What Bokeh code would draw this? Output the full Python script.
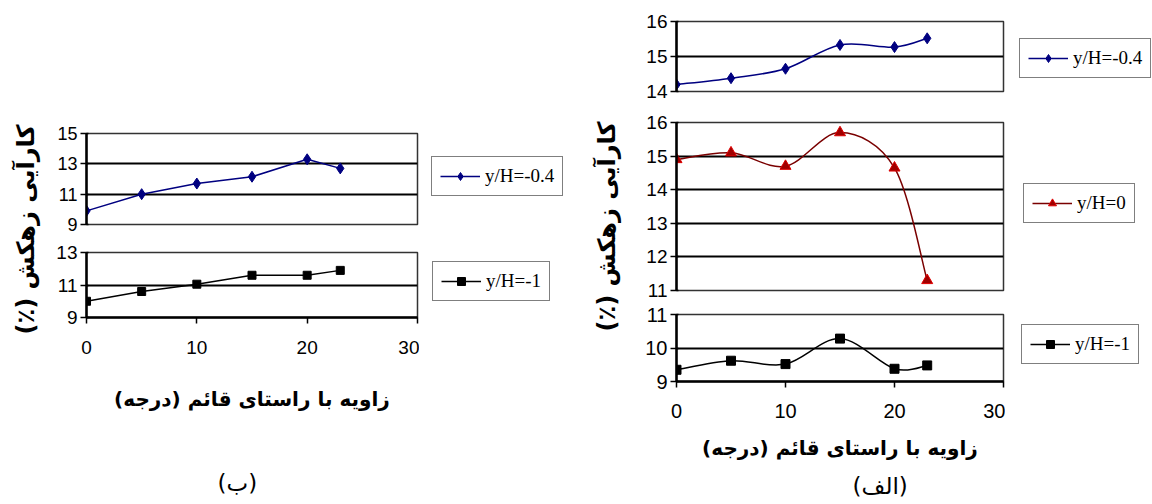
import numpy as np
from bokeh.plotting import figure
from bokeh.layouts import row, column
from bokeh.models import (Range1d, FixedTicker, Legend, LegendItem, Label,
                          ColumnDataSource, LinearAxis)
from bokeh.embed import file_html
from bokeh.resources import INLINE
from math import pi

# ---------------- data ----------------
angles = [0, 5, 10, 15, 20, 23]
# chart (ب)
b_y04 = [9.9, 11.0, 11.7, 12.15, 13.3, 12.7]
b_y1 = [10.0, 10.6, 11.05, 11.6, 11.6, 11.9]
# chart (الف)
a_y04 = [14.2, 14.38, 14.65, 15.33, 15.27, 15.52]
a_y0 = [14.9, 15.1, 14.7, 15.7, 14.65, 11.3]
a_y1 = [9.35, 9.62, 9.52, 10.28, 9.38, 9.48]

x_ticks = [0, 10, 20, 30]
b_top_ticks = [9, 11, 13, 15]
b_bot_ticks = [9, 11, 13]
a_top_ticks = [14, 15, 16]
a_mid_ticks = [11, 12, 13, 14, 15, 16]
a_bot_ticks = [9, 10, 11]

lbl_y04 = "y/H=-0.4"
lbl_y0 = "y/H=0"
lbl_y1 = "y/H=-1"

RLM = "\u200f"
NB = "\u00a0"
y_title = RLM + "کارآیی زهکش (٪)" + RLM
x_title = RLM + "زاویه با راستای قائم (درجه)" + RLM
# non-breaking spaces only shift the centred caption sideways
cap_b = RLM + NB * 4 + "(ب)" + RLM
cap_a = RLM + "(الف)" + NB * 11 + RLM

NUM_FONT = "Liberation Sans"
LEG_FONT = "Liberation Serif"
FA_FONT = "DejaVu Sans"

BLUE = "#000080"
RED_LINE = "#7a0000"
RED_FILL = "#a00000"
BLACK = "#000000"


def smooth_source(xs, ys):
    """Bezier control points (Excel-style smoothed line) from the data."""
    xs = np.asarray(xs, float)
    ys = np.asarray(ys, float)
    n = len(xs)
    d = dict(x0=[], y0=[], x1=[], y1=[], cx0=[], cy0=[], cx1=[], cy1=[])
    for i in range(n - 1):
        im = max(i - 1, 0)
        ip2 = min(i + 2, n - 1)
        d["x0"].append(xs[i]); d["y0"].append(ys[i])
        d["x1"].append(xs[i + 1]); d["y1"].append(ys[i + 1])
        d["cx0"].append(xs[i] + (xs[i + 1] - xs[im]) / 6.0)
        d["cy0"].append(ys[i] + (ys[i + 1] - ys[im]) / 6.0)
        d["cx1"].append(xs[i + 1] - (xs[ip2] - xs[i]) / 6.0)
        d["cy1"].append(ys[i + 1] - (ys[ip2] - ys[i]) / 6.0)
    return ColumnDataSource(d)


def bare_fig(width, height):
    f = figure(width=width, height=height, x_range=Range1d(0, 30), y_range=Range1d(0, 1),
               output_backend="svg", toolbar_location=None, title=None,
               x_axis_location=None, y_axis_location=None,
               min_border_left=0, min_border_right=0, min_border_top=0, min_border_bottom=0)
    f.grid.visible = False
    f.outline_line_color = None
    f.background_fill_color = "white"
    f.border_fill_color = "white"
    return f


def panel(width, height, ylo, yhi, yticks, bl, br, bt, bb, show_x, tick_size):
    kw = dict(width=width, height=height, x_range=Range1d(0, 30),
              y_range=Range1d(ylo, yhi), output_backend="svg",
              toolbar_location=None, title=None,
              min_border_left=bl, min_border_right=br,
              min_border_top=bt, min_border_bottom=bb)
    if not show_x:
        kw["x_axis_location"] = None
    p = figure(**kw)
    p.background_fill_color = "white"
    p.border_fill_color = "white"
    p.outline_line_color = "#333333"
    p.outline_line_width = 1.5
    p.xgrid.visible = False
    p.ygrid.ticker = FixedTicker(ticks=yticks)
    p.ygrid.grid_line_color = "black"
    p.ygrid.grid_line_width = 2
    ya = p.yaxis[0]
    ya.ticker = FixedTicker(ticks=yticks)
    ya.minor_tick_line_color = None
    ya.major_tick_in = 2
    ya.major_tick_out = 6
    ya.major_tick_line_color = "black"
    ya.major_tick_line_width = 1.5
    ya.axis_line_width = 2.5
    ya.axis_line_color = "black"
    ya.major_label_text_font = NUM_FONT
    ya.major_label_text_font_size = tick_size
    ya.major_label_text_color = "black"
    ya.major_label_standoff = 3
    if show_x:
        xa = p.xaxis[0]
        xa.ticker = FixedTicker(ticks=x_ticks)
        xa.minor_tick_line_color = None
        xa.major_tick_in = 0
        xa.major_tick_out = 6
        xa.major_tick_line_width = 1.5
        xa.major_tick_line_color = "black"
        xa.axis_line_width = 2.5
        xa.axis_line_color = "black"
        xa.major_label_text_font = NUM_FONT
        xa.major_label_text_font_size = tick_size
        xa.major_label_text_color = "black"
        xa.axis_label = x_title
        xa.axis_label_text_font = FA_FONT
        xa.axis_label_text_font_style = "bold"
        xa.axis_label_text_font_size = "20px"
        xa.axis_label_text_color = "black"
    return p


def add_caption(p, text, standoff):
    ax = LinearAxis(ticker=FixedTicker(ticks=[]), axis_line_color=None,
                    major_tick_line_color=None, minor_tick_line_color=None,
                    major_tick_out=0, major_tick_in=0, major_label_standoff=0,
                    axis_label=text, axis_label_standoff=standoff,
                    axis_label_text_font=FA_FONT, axis_label_text_font_size="23px",
                    axis_label_text_font_style="normal",
                    axis_label_text_color="black")
    p.add_layout(ax, "below")


def legend_fig(width, height, label, ys, kind, loc):
    """Separate figure holding the legend box; its key glyphs use the series data."""
    f = bare_fig(width, height)
    if kind == "blue":
        r1 = f.line(angles, ys, line_color=BLUE, line_width=1.5, visible=False)
        r2 = f.scatter(angles, ys, marker="diamond", size=11, fill_color=BLUE,
                       line_color=BLUE, visible=False)
    elif kind == "red":
        r1 = f.line(angles, ys, line_color=RED_LINE, line_width=1.5, visible=False)
        r2 = f.scatter(angles, ys, marker="triangle", size=11, fill_color=RED_FILL,
                       line_color="#e00000", visible=False)
    else:
        r1 = f.line(angles, ys, line_color=BLACK, line_width=1.5, visible=False)
        r2 = f.scatter(angles, ys, marker="square", size=8, fill_color=BLACK,
                       line_color=BLACK, visible=False)
    leg = Legend(items=[LegendItem(label=label, renderers=[r1, r2])], location=loc)
    leg.border_line_color = "black"
    leg.border_line_width = 1.5
    leg.background_fill_color = "white"
    leg.background_fill_alpha = 1
    leg.label_text_font = LEG_FONT
    leg.label_text_font_size = "19px"
    leg.label_text_color = "black"
    leg.glyph_width = 40
    leg.glyph_height = 20
    leg.label_height = 20
    leg.label_standoff = 5
    leg.padding = 8
    leg.spacing = 0
    leg.margin = 0
    leg.click_policy = "none"
    f.add_layout(leg, "center")
    return f


def text_fig(width, height, cx, cy, text, angle, size, bold):
    f = bare_fig(width, height)
    f.add_layout(Label(x=cx, y=height - cy, x_units="screen", y_units="screen",
                       text=text, angle=angle, text_align="center",
                       text_baseline="middle", text_font=FA_FONT,
                       text_font_size=size,
                       text_font_style="bold" if bold else "normal",
                       text_color="black"))
    return f


# ---------------- chart (ب) ----------------
pbt = panel(369, 238, 9, 15, b_top_ticks, 36, 2, 133, 14, False, "18px")
pbt.line(angles, b_y04, line_color=BLUE, line_width=1.5)
pbt.scatter(angles, b_y04, marker="diamond", size=11, fill_color=BLUE, line_color=BLUE)
legbA = legend_fig(171, 238, lbl_y04, b_y04, "blue", (12, 28))

pbb = panel(369, 266, 9, 13, b_bot_ticks, 36, 2, 14, 187, True, "19px")
pbb.xaxis[0].major_label_standoff = 17
pbb.xaxis[0].axis_label_standoff = 30
pbb.line(angles, b_y1, line_color=BLACK, line_width=1.5)
pbb.scatter(angles, b_y1, marker="square", size=8, fill_color=BLACK, line_color=BLACK)
add_caption(pbb, cap_b, 56)
legbB = legend_fig(171, 266, lbl_y1, b_y1, "black", (13, 16))

# ---------------- chart (الف) ----------------
pat = panel(375, 106, 14, 16, a_top_ticks, 46, 2, 21, 15, False, "19px")
s1 = smooth_source(angles, a_y04)
pat.bezier(x0="x0", y0="y0", x1="x1", y1="y1", cx0="cx0", cy0="cy0",
           cx1="cx1", cy1="cy1", source=s1, line_color=BLUE, line_width=1.5)
pat.scatter(angles, a_y04, marker="diamond", size=11, fill_color=BLUE, line_color=BLUE)
legaA = legend_fig(147, 106, lbl_y04, a_y04, "blue", (14, 13))

pam = panel(375, 196, 11, 16, a_mid_ticks, 46, 2, 16, 12, False, "19px")
s2 = smooth_source(angles, a_y0)
pam.bezier(x0="x0", y0="y0", x1="x1", y1="y1", cx0="cx0", cy0="cy0",
           cx1="cx1", cy1="cy1", source=s2, line_color=RED_LINE, line_width=1.5)
pam.scatter(angles, a_y0, marker="triangle", size=11, fill_color=RED_FILL,
            line_color="#e00000")
legaB = legend_fig(147, 196, lbl_y0, a_y0, "red", (18, 67))

pab = panel(375, 202, 9, 11, a_bot_ticks, 46, 2, 12, 123, True, "20px")
pab.xaxis[0].major_label_standoff = 16
pab.xaxis[0].axis_label_standoff = 15
s3 = smooth_source(angles, a_y1)
pab.bezier(x0="x0", y0="y0", x1="x1", y1="y1", cx0="cx0", cy0="cy0",
           cx1="cx1", cy1="cy1", source=s3, line_color=BLACK, line_width=1.5)
pab.scatter(angles, a_y1, marker="square", size=9, fill_color=BLACK, line_color=BLACK)
add_caption(pab, cap_a, 10)
legaC = legend_fig(147, 202, lbl_y1, a_y1, "black", (16, 17))

yl_b = text_fig(50, 504, 25, 229, y_title, pi / 2, "24px", True)
yl_a = text_fig(40, 504, 16, 226, y_title, pi / 2, "24px", True)

left_block = column(row(pbt, legbA), row(pbb, legbB))
right_block = column(row(pat, legaA), row(pam, legaB), row(pab, legaC))
layout = row(yl_b, left_block, yl_a, right_block)

with open("out.html", "w") as fh:
    fh.write(file_html(layout, INLINE))
